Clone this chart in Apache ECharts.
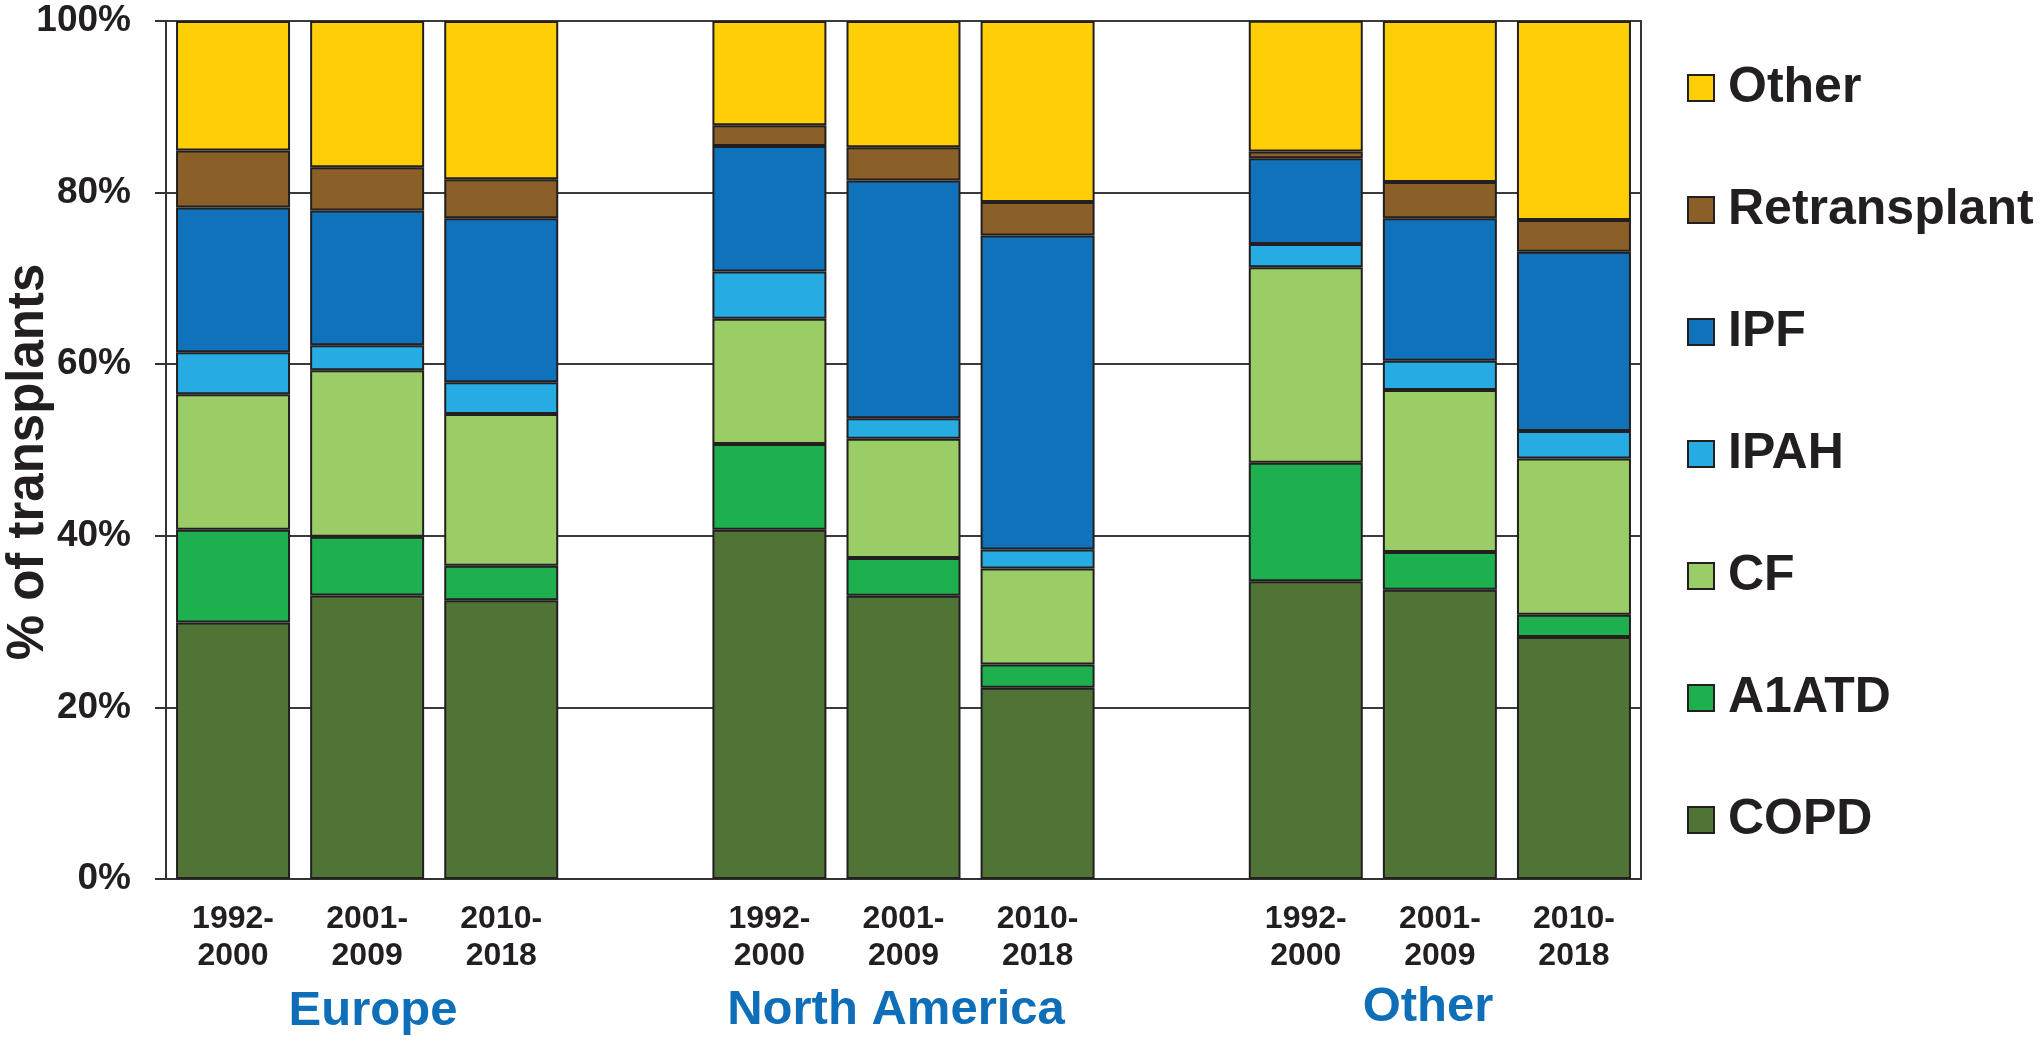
<!DOCTYPE html>
<html>
<head>
<meta charset="utf-8">
<script src="https://cdn.jsdelivr.net/npm/echarts@6/dist/echarts.min.js"></script>
<style>
html,body{margin:0;padding:0;background:#fff;}
#chart{width:2040px;height:1045px;}
</style>
</head>
<body>
<div id="chart"></div>
<script>
// Slots: 3 periods per region, with empty spacer slots between regions
const categories = ['1992-\n2000','2001-\n2009','2010-\n2018','',
                    '1992-\n2000','2001-\n2009','2010-\n2018','',
                    '1992-\n2000','2001-\n2009','2010-\n2018'];
const regions = ['Europe','North America','Other'];
const yTicks = [0,20,40,60,80,100];

// Values in % (bottom to top stacking order)
const COPD         = [29.9, 33.05, 32.5, '-', 40.7, 33.0, 22.3, '-', 34.7, 33.7, 28.2];
const A1ATD        = [10.8,  6.85,  4.0, '-', 10.0,  4.4,  2.7, '-', 13.8,  4.4,  2.6];
const CF           = [15.8, 19.4,  17.7, '-', 14.6, 13.9, 11.2, '-', 22.8, 18.9, 18.2];
const IPAH         = [ 4.9,  2.9,   3.7, '-',  5.5,  2.4,  2.2, '-',  2.7,  3.4,  3.2];
const IPF          = [16.85,15.7,  19.1, '-', 14.64,27.7, 36.6, '-', 10.0, 16.6, 20.9];
const Retransplant = [ 6.65, 5.05,  4.55,'-',  2.41, 3.9,  3.9, '-',  0.78, 4.24, 3.7];
const Other        = [15.1, 17.05, 18.45,'-', 12.15,14.7, 21.1, '-', 15.26,18.76,23.2];

const seriesDefs = [
  {name:'COPD', data:COPD, color:'#507436'},
  {name:'A1ATD', data:A1ATD, color:'#1EB04E'},
  {name:'CF', data:CF, color:'#9BCD67'},
  {name:'IPAH', data:IPAH, color:'#26ACE2'},
  {name:'IPF', data:IPF, color:'#1072BA'},
  {name:'Retransplant', data:Retransplant, color:'#8A5F28'},
  {name:'Other', data:Other, color:'#FECF07'}
];

const FONT = '"Liberation Sans", Arial, Helvetica, sans-serif';
const TXT = '#231F20';

const chart = echarts.init(document.getElementById('chart'), null, {renderer:'canvas'});
const option = {
  animation:false,
  backgroundColor:'#fff',
  grid:{left:166, right:399, top:21, bottom:166, show:true, borderColor:'#333', borderWidth:2, backgroundColor:'transparent'},
  legend:{
    orient:'vertical', left:1682, top:58,
    data: seriesDefs.map(s=>s.name).reverse(),
    itemWidth:26, itemHeight:26, itemGap:72,
    icon:'rect',
    textStyle:{fontFamily:FONT, fontWeight:'bold', fontSize:50, lineHeight:50, color:TXT, padding:[0,0,0,9]}
  },
  xAxis:{
    type:'category', data:categories,
    axisLine:{lineStyle:{color:'#333', width:2}},
    axisTick:{show:false},
    axisLabel:{interval:0, margin:22, fontFamily:FONT, fontWeight:'bold', fontSize:32, lineHeight:37, color:TXT}
  },
  yAxis:{
    type:'value', min:0, max:100, interval:20,
    axisLine:{show:true, lineStyle:{color:'#333', width:2}},
    axisTick:{show:true, inside:false, length:11, lineStyle:{color:'#333', width:2}},
    splitLine:{show:true, lineStyle:{color:'#3a3a3a', width:2}},
    axisLabel:{margin:35, formatter:'{value}%', fontFamily:FONT, fontWeight:'bold', fontSize:37, color:TXT}
  },
  series: seriesDefs.map(s=>({
    name:s.name, type:'bar', stack:'total', data:s.data, barWidth:114,
    itemStyle:{color:s.color, borderColor:'#231F20', borderWidth:2}
  })),
  graphic:[
    {type:'text', x:29, y:462, rotation:Math.PI/2,
      style:{text:'% of transplants', fontFamily:FONT, fontWeight:'bold', fontSize:51, fill:TXT, align:'center', verticalAlign:'middle'}},
    {type:'text', x:373, y:1011, style:{text:regions[0], fontFamily:FONT, fontWeight:'bold', fontSize:49, fill:'#0E6EB8', align:'center', verticalAlign:'middle'}},
    {type:'text', x:896, y:1010, style:{text:regions[1], fontFamily:FONT, fontWeight:'bold', fontSize:49, fill:'#0E6EB8', align:'center', verticalAlign:'middle'}},
    {type:'text', x:1428, y:1007, style:{text:regions[2], fontFamily:FONT, fontWeight:'bold', fontSize:49, fill:'#0E6EB8', align:'center', verticalAlign:'middle'}}
  ]
};
chart.setOption(option);
</script>
</body>
</html>
